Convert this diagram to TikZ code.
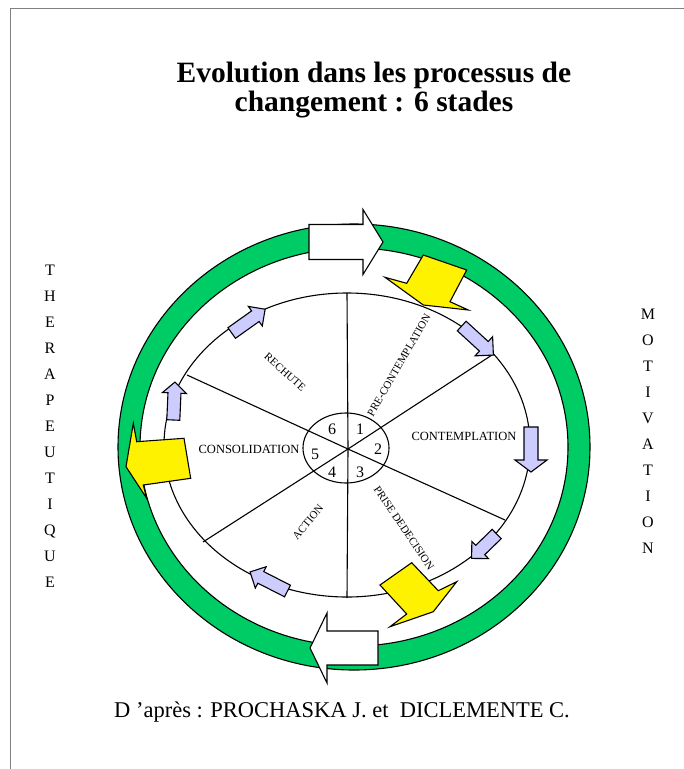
\documentclass[tikz,border=0pt]{standalone}
\usepackage{fontspec}
\setmainfont{Liberation Serif}
\usetikzlibrary{positioning}

\definecolor{ringgreen}{RGB}{0,204,102}
\definecolor{lavender}{RGB}{204,204,255}

% block arrow: style, tail, angle, length, body half width, head half width, head length
\newcommand{\blockarrow}[7]{%
  \filldraw[#1, shift={#2}, rotate=#3] (0,#5) -- ({#4-#7},#5) -- ({#4-#7},#6) -- (#4,0)
    -- ({#4-#7},-#6) -- ({#4-#7},-#5) -- (0,-#5) -- cycle;}

\begin{document}
\begin{tikzpicture}[x=1pt, y=-1pt,
  stage/.style={font=\fontsize{11}{13}\selectfont, inner sep=0pt},
  widestage/.style={font=\fontsize{12.5}{14}\selectfont, inner sep=0pt},
  number/.style={font=\fontsize{16}{18}\selectfont, inner sep=0pt},
  vertword/.style={align=center, font=\fontsize{16}{26}\selectfont, inner sep=0pt},
  thinline/.style={line width=1.1pt},
  whitearrow/.style={draw=black, fill=white, line width=1.1pt},
  lavarrow/.style={draw=black, fill=lavender, line width=1.1pt},
  yellowarrow/.style={draw=black, fill=yellow, line width=1.1pt}]
\useasboundingbox (0,0) rectangle (684,769);
%	frame
\draw[gray, line width=1pt] (10,769) -- (10,8) -- (684,8);

\node[align=center, font=\bfseries\fontsize{29.5}{29}\selectfont] (title) at (374,90)
  {Evolution dans les processus de\\ changement : 6 stades};

%	green ring
\filldraw[ringgreen, draw=black, line width=1.1pt, even odd rule]
  (354,447) ellipse [x radius=236pt, y radius=223pt]
  (354,447) ellipse [x radius=214pt, y radius=199pt];

%	wheel
\draw[thinline] (347,445) ellipse [x radius=183pt, y radius=152pt];
\coordinate (hub) at (348,449);
\coordinate (top) at (347,293);
\coordinate (bottom) at (347,598);
\coordinate (ul) at (187,375);
\coordinate (lr) at (505,520);
\coordinate (ur) at (492,355);
\coordinate (ll) at (203,542);
\draw[thinline] (top) -- (hub) -- (bottom);
\draw[thinline] (ul) -- (hub) -- (lr);
\draw[thinline] (ur) -- (hub) -- (ll);
\draw[thinline] (346,448) ellipse [x radius=43pt, y radius=35pt];

\node[number] (n1) at (360,429) {1};
\node[number] (n2) at (378,449) {2};
\node[number] (n3) at (360,472) {3};
\node[number] (n4) at (332,472) {4};
\node[number] (n5) at (315,454) {5};
\node[number] (n6) at (332,429) {6};

\node[stage, rotate=60] (precontemplation) at (399,365) {PRE-CONTEMPLATION};
\node[widestage] (contemplation) at (464,436) {CONTEMPLATION};
\node[stage, rotate=-56] (decision) at (404,528) {PRISE DEDECISION};
\node[stage, rotate=50] (action) at (308,522) {ACTION};
\node[stage, rotate=-41.6] (rechute) at (285,372) {RECHUTE};
\node[widestage] (consolidation) at (249,449) {CONSOLIDATION};

%	small arrows on the wheel
\blockarrow{lavarrow}{(461.7,326)}{-42.5}{43}{6.5}{13}{13}
\blockarrow{lavarrow}{(531,427)}{-90}{45}{7}{16}{12}
\blockarrow{lavarrow}{(496.7,534)}{-135.8}{35}{6.5}{12}{12}
\blockarrow{lavarrow}{(287.5,591)}{153}{42}{6.5}{12}{12}
\blockarrow{lavarrow}{(173.3,420)}{87.5}{38}{6.5}{12}{11}
\blockarrow{lavarrow}{(231.7,333)}{35.4}{41}{6.5}{12}{12}

%	yellow arrows
\filldraw[yellowarrow] (423.3,255) -- (466.7,270) -- (450,301.7) -- (468.3,310)
  -- (423.3,305) -- (385,277.3) -- (406.7,283.3) -- cycle;
\filldraw[yellowarrow] (380,585) -- (411.7,562.7) -- (438.3,590.7) -- (456.7,581.7)
  -- (433.3,611.7) -- (390,626.7) -- (406.7,614) -- cycle;
\filldraw[yellowarrow] (133.3,423.3) -- (136.7,441.7) -- (184,438.3) -- (190.7,478.3)
  -- (143.3,485) -- (146.7,498.3) -- (126,466.7) -- cycle;

%	big white arrows
\blockarrow{whitearrow}{(309,242)}{0}{74}{17.5}{32.5}{20}
\blockarrow{whitearrow}{(378,648)}{180}{68}{17}{35}{17}

\node[vertword] (therapeutique) at (50,426) {T\\H\\E\\R\\A\\P\\E\\U\\T\\I\\Q\\U\\E};
\node[vertword] (motivation) at (648,431) {M\\O\\T\\I\\V\\A\\T\\I\\O\\N};

\node[font=\fontsize{22.5}{26}\selectfont] (source) at (342,712)
  {D 'après : PROCHASKA J. et \ DICLEMENTE C.};
\end{tikzpicture}
\end{document}
